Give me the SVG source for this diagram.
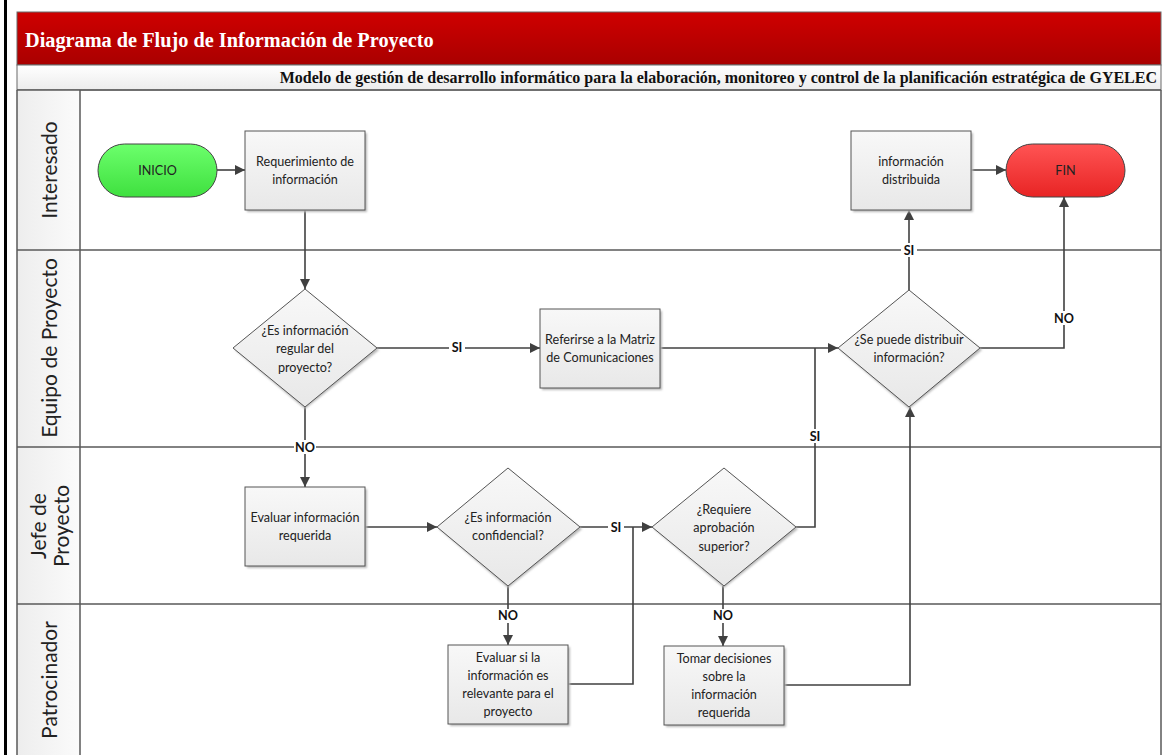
<svg xmlns="http://www.w3.org/2000/svg" width="1175" height="755" viewBox="0 0 1175 755">
<defs>
<linearGradient id="gRed" x1="0" y1="0" x2="0" y2="1"><stop offset="0" stop-color="#cf0000"/><stop offset="1" stop-color="#a90000"/></linearGradient>
<linearGradient id="gSub" x1="0" y1="0" x2="0" y2="1"><stop offset="0" stop-color="#ffffff"/><stop offset="1" stop-color="#ececec"/></linearGradient>
<linearGradient id="gLane" x1="0" y1="0" x2="1" y2="0"><stop offset="0" stop-color="#ededed"/><stop offset="1" stop-color="#fbfbfb"/></linearGradient>
<linearGradient id="gBox" x1="0" y1="0" x2="0" y2="1"><stop offset="0" stop-color="#f8f8f8"/><stop offset="1" stop-color="#e8e8e8"/></linearGradient>
<linearGradient id="gGreen" x1="0" y1="0" x2="0" y2="1"><stop offset="0" stop-color="#6cff6c"/><stop offset="1" stop-color="#3fe03f"/></linearGradient>
<linearGradient id="gRedN" x1="0" y1="0" x2="0" y2="1"><stop offset="0" stop-color="#ff5454"/><stop offset="1" stop-color="#e82424"/></linearGradient>
<filter id="sh" x="-10%" y="-10%" width="130%" height="130%"><feGaussianBlur stdDeviation="1.2"/></filter>
<marker id="arr" viewBox="0 0 10 10" refX="10" refY="5" markerWidth="10" markerHeight="10" markerUnits="userSpaceOnUse" orient="auto"><path d="M0,0 L10,5 L0,10 z" fill="#404040"/></marker>
</defs>
<style>
.lane{fill:none;stroke:#5a5a5a;stroke-width:1.5}
.lt{font-family:Lato,"Noto Sans",sans-serif;font-size:21px;fill:#222}
.box{fill:url(#gBox);stroke:#555;stroke-width:1}
.shd{fill:#b8b8b8;filter:url(#sh)}
.t{font-family:Lato,"Noto Sans",sans-serif;font-size:12.6px;fill:#222;text-anchor:middle}
.c{fill:none;stroke:#404040;stroke-width:1.6}
.ca{fill:none;stroke:#404040;stroke-width:1.6;marker-end:url(#arr)}
.lb{font-family:Lato,"Noto Sans",sans-serif;font-size:12.6px;font-weight:bold;fill:#111;text-anchor:middle}
.lbg{fill:#fff}
</style>
<rect x="0" y="0" width="1175" height="755" fill="#fff"/>
<rect x="4" y="0" width="3" height="755" fill="#000"/>
<g id="header">
<rect x="17" y="12" width="1144" height="53" fill="url(#gRed)" stroke="#6a6a6a" stroke-width="1"/>
<text x="25" y="47" font-family="'Liberation Serif',serif" font-weight="bold" font-size="20.3" fill="#fff">Diagrama de Flujo de Información de Proyecto</text>
<rect x="17" y="65" width="1144" height="25" fill="url(#gSub)" stroke="#6a6a6a" stroke-width="1"/>
<text x="1157" y="83" font-family="'Liberation Serif',serif" font-weight="bold" font-size="16" fill="#111" text-anchor="end">Modelo de gestión de desarrollo informático para la elaboración, monitoreo y control de la planificación estratégica de GYELEC</text>
</g>
<g id="lanes">
<rect x="17" y="90" width="63" height="665" fill="url(#gLane)"/>
<path class="lane" d="M17,90 V755 M80,90 V755 M1161,90 V755 M17,90 H1161 M17,250 H1161 M17,447 H1161 M17,604 H1161"/>
<text class="lt" transform="translate(57,170) rotate(-90)" text-anchor="middle">Interesado</text>
<text class="lt" transform="translate(57,348) rotate(-90)" text-anchor="middle">Equipo de Proyecto</text>
<text class="lt" transform="translate(46,526) rotate(-90)" text-anchor="middle">Jefe de</text>
<text class="lt" transform="translate(69,526) rotate(-90)" text-anchor="middle">Proyecto</text>
<text class="lt" transform="translate(57,680) rotate(-90)" text-anchor="middle">Patrocinador</text>
</g>
<g id="connectors">
<path class="ca" d="M217,170 H245"/>
<path class="ca" d="M305,210 V289"/>
<path class="ca" d="M377,348 H540"/>
<path class="ca" d="M660,348 H838"/>
<path class="ca" d="M305,407 V487"/>
<path class="ca" d="M365,527 H437"/>
<path class="ca" d="M580,527 H652"/>
<path class="ca" d="M508,586 V645"/>
<path class="c" d="M568,684 H633 V527"/>
<path class="c" d="M796,527 H815 V348"/>
<path class="ca" d="M723,586 V646"/>
<path class="ca" d="M784,685 H910 V407"/>
<path class="ca" d="M909,290 V210"/>
<path class="ca" d="M980,348 H1064 V197"/>
<path class="ca" d="M971,170 H1006"/>
<rect class="lbg" x="449" y="341" width="16" height="14"/><text class="lb" x="457" y="352">SI</text>
<rect class="lbg" x="294" y="440" width="22" height="14"/><text class="lb" x="305" y="452">NO</text>
<rect class="lbg" x="608" y="520" width="16" height="14"/><text class="lb" x="616" y="532">SI</text>
<rect class="lbg" x="497" y="609" width="22" height="14"/><text class="lb" x="508" y="620">NO</text>
<rect class="lbg" x="712" y="609" width="22" height="14"/><text class="lb" x="723" y="620">NO</text>
<rect class="lbg" x="807" y="429" width="16" height="14"/><text class="lb" x="815" y="441">SI</text>
<rect class="lbg" x="901" y="243" width="16" height="14"/><text class="lb" x="909" y="255">SI</text>
<rect class="lbg" x="1053" y="311" width="22" height="14"/><text class="lb" x="1064" y="323">NO</text>
</g>
<g id="inicio">
<rect x="98" y="144" width="119" height="53" rx="26.5" fill="url(#gGreen)" stroke="#444" stroke-width="1"/>
<text class="t" x="157.5" y="175">INICIO</text>
</g>
<g id="requerimiento">
<rect class="shd" x="247" y="133" width="120" height="79"/>
<rect class="box" x="245" y="131" width="120" height="79"/>
<text class="t" x="305" y="166">Requerimiento de</text>
<text class="t" x="305" y="184">información</text>
</g>
<g id="d-regular">
<path class="shd" d="M305,291 L379,350 L305,409 L235,350 z"/>
<path class="box" d="M305,289 L377,348 L305,407 L233,348 z"/>
<text class="t" x="305" y="335">¿Es información</text>
<text class="t" x="305" y="353">regular del</text>
<text class="t" x="305" y="372">proyecto?</text>
</g>
<g id="referirse">
<rect class="shd" x="542" y="311" width="120" height="79"/>
<rect class="box" x="540" y="309" width="120" height="79"/>
<text class="t" x="600" y="344">Referirse a la Matriz</text>
<text class="t" x="600" y="362">de Comunicaciones</text>
</g>
<g id="d-distribuir">
<path class="shd" d="M909,292 L982,350 L909,409 L840,350 z"/>
<path class="box" d="M909,290 L980,348 L909,407 L838,348 z"/>
<text class="t" x="909" y="344">¿Se puede distribuir</text>
<text class="t" x="909" y="362">información?</text>
</g>
<g id="distribuida">
<rect class="shd" x="853" y="133" width="120" height="79"/>
<rect class="box" x="851" y="131" width="120" height="79"/>
<text class="t" x="911" y="166">información</text>
<text class="t" x="911" y="184">distribuida</text>
</g>
<g id="fin">
<rect x="1006" y="144" width="119" height="53" rx="26.5" fill="url(#gRedN)" stroke="#444" stroke-width="1"/>
<text class="t" x="1065.5" y="175">FIN</text>
</g>
<g id="evaluar">
<rect class="shd" x="247" y="489" width="120" height="79"/>
<rect class="box" x="245" y="487" width="120" height="79"/>
<text class="t" x="305" y="522">Evaluar información</text>
<text class="t" x="305" y="540">requerida</text>
</g>
<g id="d-confidencial">
<path class="shd" d="M508,470 L582,529 L508,588 L439,529 z"/>
<path class="box" d="M508,468 L580,527 L508,586 L437,527 z"/>
<text class="t" x="508" y="522">¿Es información</text>
<text class="t" x="508" y="540">confidencial?</text>
</g>
<g id="d-aprobacion">
<path class="shd" d="M724,470 L798,529 L724,588 L654,529 z"/>
<path class="box" d="M724,468 L796,527 L724,586 L652,527 z"/>
<text class="t" x="724" y="514">¿Requiere</text>
<text class="t" x="724" y="532">aprobación</text>
<text class="t" x="724" y="551">superior?</text>
</g>
<g id="evaluar-relevante">
<rect class="shd" x="450" y="647" width="120" height="79"/>
<rect class="box" x="448" y="645" width="120" height="79"/>
<text class="t" x="508" y="662">Evaluar si la</text>
<text class="t" x="508" y="680">información es</text>
<text class="t" x="508" y="698">relevante para el</text>
<text class="t" x="508" y="716">proyecto</text>
</g>
<g id="tomar">
<rect class="shd" x="666" y="648" width="120" height="79"/>
<rect class="box" x="664" y="646" width="120" height="79"/>
<text class="t" x="724" y="663">Tomar decisiones</text>
<text class="t" x="724" y="681">sobre la</text>
<text class="t" x="724" y="699">información</text>
<text class="t" x="724" y="717">requerida</text>
</g>
</svg>
